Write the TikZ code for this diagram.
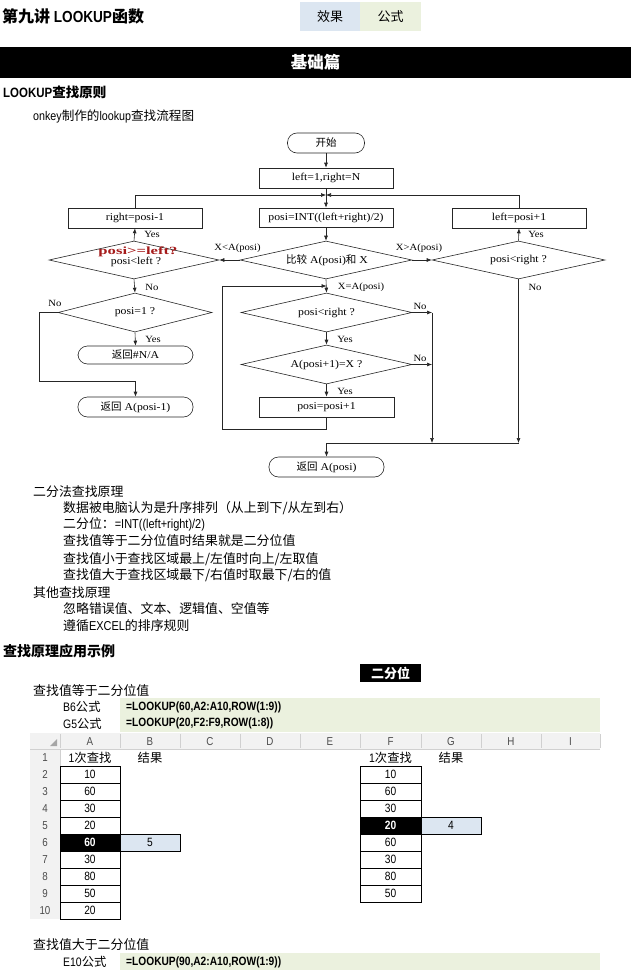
\documentclass[tikz,border=0pt]{standalone}
\usepackage{fontspec}
\usepackage{graphicx}
\setmainfont{Noto Sans CJK SC}
\newfontfamily\cj{Noto Sans CJK SC}
\newfontfamily\an[FakeStretch=0.85]{Liberation Sans}
\newfontfamily\tr[FakeStretch=1.12]{Liberation Serif}
\usetikzlibrary{arrows.meta,shapes.geometric}
\definecolor{lblue}{HTML}{DCE6F1}
\definecolor{lgreen}{HTML}{EBF1DE}
\definecolor{hdr}{HTML}{F2F2F2}
\definecolor{gridc}{HTML}{D0D0D0}
\definecolor{dred}{HTML}{A51A1A}
\begin{document}
\begin{tikzpicture}[x=1pt,y=-1pt,
  fl/.style={draw=black!85, line width=0.6pt},
  arr/.style={fl,-{Latex[length=5pt,width=4pt]}},
  proc/.style={fl, rectangle, inner sep=0pt, minimum width=134pt, minimum height=20pt, font=\tr\fontsize{10.5}{12}\selectfont},
  term/.style={fl, rectangle, rounded corners=9.5pt, inner sep=0pt, minimum width=115pt, minimum height=20pt, font=\tr\fontsize{10.5}{12}\selectfont},
  dec/.style={fl, diamond, inner sep=0pt, minimum width=172pt, minimum height=38pt},
  ft/.style={inner sep=0pt, font=\tr\fontsize{10.5}{12}\selectfont},
  yn/.style={inner sep=0pt, font=\tr\fontsize{9.5}{11}\selectfont},
  body/.style={anchor=west, inner sep=0pt, font=\fontsize{12.9}{14}\selectfont},
  head/.style={anchor=west, inner sep=0pt, font=\bfseries\fontsize{13.5}{15}\selectfont},
  cell/.style={draw=black, line width=0.8pt, minimum width=60pt, minimum height=17pt, inner sep=0pt, font=\an\fontsize{12}{13}\selectfont},
  hcell/.style={cell, fill=black, text=white, font=\an\bfseries\fontsize{12}{13}\selectfont},
  celltxt/.style={inner sep=0pt, font=\fontsize{12.3}{13}\selectfont},
  collet/.style={inner sep=0pt, text=black!70, font=\an\fontsize{11.5}{13}\selectfont},
  formula/.style={anchor=west, inner sep=0pt, font=\an\bfseries\fontsize{12}{14}\selectfont},
  flab/.style={anchor=west, inner sep=0pt, font=\fontsize{12.3}{14}\selectfont}
]
\useasboundingbox (0,0) rectangle (631,971);

% ---------- header ----------
\node[anchor=west, inner sep=0pt, font=\bfseries\fontsize{16}{18}\selectfont] (title) at (2,16) {第九讲 {\an LOOKUP}函数};
\node[fill=lblue, minimum width=60pt, minimum height=29pt, inner sep=0pt, font=\fontsize{13}{15}\selectfont] (btn1) at (330,16.5) {效果};
\node[fill=lgreen, minimum width=61pt, minimum height=29pt, inner sep=0pt, font=\fontsize{13}{15}\selectfont] (btn2) at (390.5,16.5) {公式};
\node[fill=black, text=white, minimum width=631pt, minimum height=31pt, inner sep=0pt, font=\bfseries\fontsize{16.5}{18}\selectfont] (bar) at (315.5,62.5) {基础篇};
\node[head] (h1) at (3,92) {{\an LOOKUP}查找原则};
\node[anchor=west, inner sep=0pt, font=\fontsize{12.6}{14}\selectfont] (h1sub) at (33,116) {{\an onkey}制作的{\an lookup}查找流程图};

% ---------- flowchart ----------
\node[term, minimum width=77pt] (start) at (326,143) {\cj 开始};
\node[proc] (init) at (326,178) {left=1,right=N};
\node[proc, minimum height=19pt] (mid) at (326,217.5) {posi=INT((left+right)/2)};
\node[proc] (rp) at (135,218) {right=posi-1};
\node[proc] (lp) at (519,218) {left=posi+1};
\node[dec] (cmp) at (326,260) {};
\node[ft] (cmpt) at (327,260) {{\cj 比较} A(posi){\cj 和} X};
\node[dec, minimum width=170pt] (dl) at (134,260) {};
\node[ft] (dlt) at (136,262) {posi<left ?};
\node[inner sep=0pt, text=dred, font=\tr\bfseries\fontsize{11}{12}\selectfont] (dlred) at (138,251.5) {\scalebox{1.35}[1]{posi>=left?}};
\node[dec, minimum width=173pt] (dr) at (518.5,260) {};
\node[ft] (drt) at (518.5,260) {posi<right ?};
\node[dec, minimum width=171pt, minimum height=39pt] (c1) at (326.5,312.5) {};
\node[ft] (c1t) at (326.5,312.5) {posi<right ?};
\node[dec, minimum width=171pt, minimum height=39pt] (c2) at (326.5,364.5) {};
\node[ft] (c2t) at (326.5,364.5) {A(posi+1)=X ?};
\node[proc, minimum width=135pt] (inc) at (326.5,407) {posi=posi+1};
\node[dec, minimum width=154pt, minimum height=39pt] (p1) at (135,312.5) {};
\node[ft] (p1t) at (135,312.5) {posi=1 ?};
\node[term, minimum height=18pt] (na) at (135.5,355) {{\cj 返回}\#N/A};
\node[term] (rm1) at (135.5,407) {{\cj 返回} A(posi-1)};
\node[term] (ret) at (326.5,467) {{\cj 返回} A(posi)};

\coordinate (j) at (326,195);
\coordinate (pl) at (39,312.5);
\coordinate (pb) at (39,381);
\coordinate (lb) at (222,429);
\coordinate (lt) at (222,286);
\coordinate (lj) at (326.5,286);
\coordinate (n1) at (432,312.5);
\coordinate (n2) at (432,364.5);
\coordinate (bl) at (432,443);
\coordinate (br) at (518.5,443);
\coordinate (bm) at (326.5,443);

\draw[arr] (start) -- (init);
\draw[arr] (init) -- (mid);
\draw[arr] (rp.north) |- (j);
\draw[arr] (lp.north) |- (j);
\draw[arr] (mid) -- (cmp.north);
\draw[arr] (cmp.west) -- (dl.east);
\draw[arr] (cmp.east) -- (dr.west);
\draw[arr] (dl.north) -- (rp.south);
\draw[arr] (dr.north) -- (lp.south);
\draw[arr] (dl.south) -- (p1.north);
\draw[arr] (p1.south) -- (na.north);
\draw[arr] (p1.west) -- (pl) -- (pb) -| (rm1.north);
\draw[arr] (cmp.south) -- (c1.north);
\draw[arr] (c1.south) -- (c2.north);
\draw[arr] (c2.south) -- (inc.north);
\draw[arr] (inc.south) |- (lb) -- (lt) -- (lj);
\draw[arr] (c1.east) -- (n1);
\draw[arr] (c2.east) -- (n2);
\draw[arr] (n1) -- (bl);
\draw[arr] (dr.south) -- (br);
\draw[fl] (br) -- (bm);
\draw[arr] (bm) -- (ret.north);

\node[yn] (y1) at (152,234) {Yes};
\node[yn] (y2) at (536,234) {Yes};
\node[yn] (lt1) at (237.5,248) {X<A(posi)};
\node[yn] (gt1) at (419,248) {X>A(posi)};
\node[yn] (no1) at (152,287) {No};
\node[yn] (no2) at (535,287) {No};
\node[yn] (eq1) at (361,287) {X=A(posi)};
\node[yn] (no3) at (55,303) {No};
\node[yn] (y3) at (153,339) {Yes};
\node[yn] (no4) at (420,306) {No};
\node[yn] (y4) at (345,339) {Yes};
\node[yn] (no5) at (420,358) {No};
\node[yn] (y5) at (345,391) {Yes};

% ---------- principles ----------
\node[body] (t1) at (33,492) {二分法查找原理};
\node[body] (t2) at (63,508) {数据被电脑认为是升序排列（从上到下/从左到右）};
\node[body] (t3) at (63,524) {二分位：{\an =INT((left+right)/2)}};
\node[body] (t4) at (63,541) {查找值等于二分位值时结果就是二分位值};
\node[body] (t5) at (63,559) {查找值小于查找区域最上/左值时向上/左取值};
\node[body] (t6) at (63,575) {查找值大于查找区域最下/右值时取最下/右的值};
\node[body] (t7) at (33,593) {其他查找原理};
\node[body] (t8) at (63,609) {忽略错误值、文本、逻辑值、空值等};
\node[body] (t9) at (63,626) {遵循{\an EXCEL}的排序规则};

% ---------- examples ----------
\node[head, font=\bfseries\fontsize{14}{16}\selectfont] (h2) at (3,651) {查找原理应用示例};
\node[fill=black, text=white, minimum width=61pt, minimum height=18pt, inner sep=0pt, font=\bfseries\fontsize{13}{15}\selectfont] (bfw) at (390.5,673) {二分位};
\node[body] (e1) at (33,691) {查找值等于二分位值};
\node[fill=lgreen, minimum width=480pt, minimum height=34pt, inner sep=0pt] (band1) at (360,715) {};
\node[flab] (fb6) at (63,707) {{\an B6}公式};
\node[flab] (fg5) at (63,723.5) {{\an G5}公式};
\node[formula] (fm1) at (126,707) {=LOOKUP(60,A2:A10,ROW(1:9))};
\node[formula] (fm2) at (126,723.5) {=LOOKUP(20,F2:F9,ROW(1:8))};

% sheet headers
\fill[hdr] (30,733) rectangle (600,749);
\fill[hdr] (30,749) rectangle (60,919);
\draw[gridc, line width=0.6pt] (30,749) -- (600,749);
\draw[gridc, line width=0.6pt] (60,749) -- (60,919);
\foreach \x in {60,120,180,240,300,360,421,481,541,600}
  \draw[gridc, line width=0.6pt] (\x,734) -- (\x,748);
\fill[black!35] (57,746) -- (57,739) -- (50,746) -- cycle;
\foreach \c/\x in {A/90,B/150,C/210,D/270,E/330,F/390.5,G/451,H/511,I/570.5}
  \node[collet] (col\c) at (\x,741.5) {\c};
\foreach \r in {1,...,10}
  \node[collet] (row\r) at (45,{757.5+17*(\r-1)}) {\r};

\node[celltxt] (a1) at (90,757.5) {{\an 1}次查找};
\node[celltxt] (b1) at (150,757.5) {结果};
\node[celltxt] (f1) at (390.5,757.5) {{\an 1}次查找};
\node[celltxt] (g1) at (451,757.5) {结果};

\foreach \v/\s [count=\i from 2] in {10/cell,60/cell,30/cell,20/cell,60/hcell,30/cell,80/cell,50/cell,20/cell}
  \node[\s] (a\i) at (90,{757.5+17*(\i-1)}) {\v};
\foreach \v/\s [count=\i from 2] in {10/cell,60/cell,30/cell,20/hcell,60/cell,30/cell,80/cell,50/cell}
  \node[\s, minimum width=61pt] (f\i) at (390.5,{757.5+17*(\i-1)}) {\v};
\node[cell, fill=lblue] (b6) at (150,842.5) {5};
\node[cell, fill=lblue] (g5) at (451,825.5) {4};

\node[body] (e2) at (33,945) {查找值大于二分位值};
\node[fill=lgreen, minimum width=480pt, minimum height=17pt, inner sep=0pt] (band2) at (360,961.5) {};
\node[flab] (fe10) at (63,962) {{\an E10}公式};
\node[formula] (fm3) at (126,962) {=LOOKUP(90,A2:A10,ROW(1:9))};
\end{tikzpicture}
\end{document}
